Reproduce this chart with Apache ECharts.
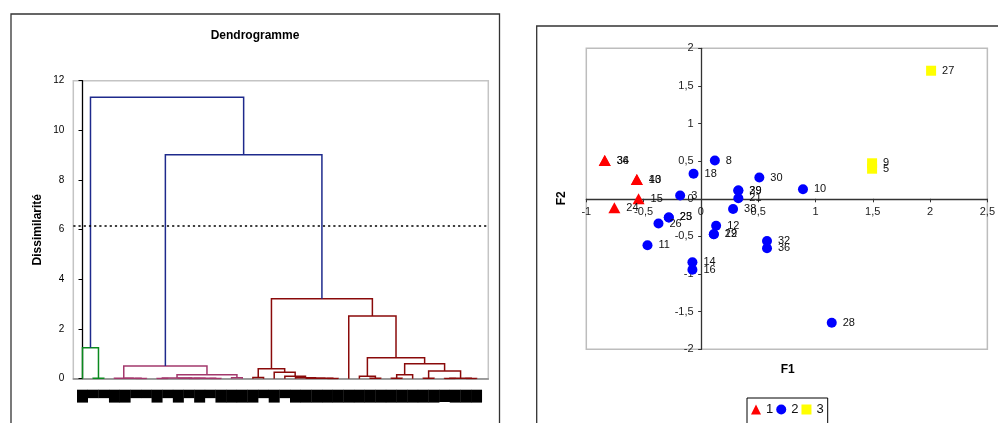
<!DOCTYPE html>
<html><head><meta charset="utf-8">
<script src="https://cdn.jsdelivr.net/npm/echarts@6/dist/echarts.min.js"></script>
<style>html,body{margin:0;padding:0;background:#fff}#c{width:998px;height:423px}</style>
</head><body><div id="c"></div>
<script>
// ---------------- Dendrogram data ----------------
const leafLabels = ["27","9","5","34","35","1","2","36","4","37","6","40","7","13","15","17",
  "31","3","18","8","20","30","10","39","29","33","21","38","25","23","26","12","19","22","11","14","16","28"];
// merges: [childA, childB, dissimilarity]; indices < 38 are leaves, 38+k is the k-th merge
const merges = [
  [1,2,0.02],[0,38,1.25],
  [5,6,0.01],[4,40,0.015],[3,41,0.02],[7,8,0.01],[10,11,0.01],[12,13,0.01],[44,45,0.015],
  [9,46,0.02],[43,47,0.03],[14,15,0.04],[48,49,0.16],[42,50,0.51],
  [16,17,0.05],[23,24,0.01],[22,53,0.015],[21,54,0.02],[20,55,0.04],[19,56,0.10],[18,57,0.26],
  [52,58,0.40],[27,28,0.02],[26,60,0.10],[29,30,0.02],[62,31,0.16],[32,33,0.02],[34,35,0.01],
  [36,37,0.01],[65,66,0.02],[64,67,0.31],[63,68,0.60],[61,69,0.84],[25,70,2.52],[59,71,3.22],
  [51,72,9.02],[39,73,11.33]
];
const cutHeight = 6.15;
const dendroYMax = 12;

// ---------------- Scatter data (F1, F2) ----------------
const c1Labels = ["34","36","13","40","15","24"];
const c1F1 = [-0.839,-0.839,-0.559,-0.559,-0.544,-0.755];
const c1F2 = [0.509,0.509,0.256,0.256,0.0,-0.118];
const c2Labels = ["8","18","3","30","10","29","39","21","38","23","25","26","12","19","22","32","36","11","14","16","28"];
const c2F1 = [0.122,-0.064,-0.181,0.510,0.891,0.327,0.327,0.327,0.281,-0.280,-0.280,-0.370,0.133,0.113,0.113,0.577,0.577,-0.466,-0.074,-0.074,1.142];
const c2F2 = [0.508,0.334,0.044,0.283,0.126,0.110,0.110,0.008,-0.136,-0.248,-0.248,-0.328,-0.357,-0.472,-0.472,-0.560,-0.656,-0.618,-0.843,-0.942,-1.646];
const c3Labels = ["27","9","5"];
const c3F1 = [2.009,1.494,1.494];
const c3F2 = [1.702,0.472,0.400];
const xTicksMin = -1, xTicksMax = 2.5, yTicksMin = -2, yTicksMax = 2, tickStep = 0.5;

// ---------------- layout ----------------
const FONT = "'Liberation Sans', Arial, sans-serif";
const dG = {left:73.3, top:80.7, width:415, height:298};
const sG = {left:586.3, top:48.3, width:403.7, height:301};
const leaf0 = 82.5, leafStep = 10.65;
const xMin = -(leaf0 - dG.left) / leafStep;
const xMax = xMin + dG.width / leafStep;
// put scatter axes through the origin
const xAxisOffset = -((0 - yTicksMin) / (yTicksMax - yTicksMin)) * sG.height;
const yAxisOffset = -((0 - xTicksMin) / (xTicksMax - xTicksMin)) * sG.width;

// compute node positions
const n = leafLabels.length;
const pos = [], hgt = [];
for (let i = 0; i < n; i++) { pos[i] = i; hgt[i] = 0; }
merges.forEach((m, k) => { pos[n + k] = (pos[m[0]] + pos[m[1]]) / 2; hgt[n + k] = m[2]; });
const clusterColors = ['#0A8A1E', '#A3386C', '#8A0A0A'];
const aboveColor = '#1E2A8C';
const nodeColor = {};
let clusterIdx = 0;
function assign(id, color) {
  if (id < n) return;
  const m = merges[id - n];
  if (color === null) {
    if (hgt[id] >= cutHeight) { nodeColor[id] = aboveColor; assign(m[0], null); assign(m[1], null); }
    else { const c = clusterColors[clusterIdx++ % clusterColors.length]; nodeColor[id] = c; assign(m[0], c); assign(m[1], c); }
  } else { nodeColor[id] = color; assign(m[0], color); assign(m[1], color); }
}
assign(n + merges.length - 1, null);
const linkData = merges.map((m, k) => {
  const id = n + k, a = m[0], b = m[1], h = m[2];
  return { coords: [[pos[a], hgt[a]], [pos[a], h], [pos[b], h], [pos[b], hgt[b]]],
           lineStyle: { color: nodeColor[id] } };
});

const pts = (F1, F2, L) => F1.map((x, i) => ({ value: [x, F2[i]], name: L[i] }));
const comma = v => String(v).replace('.', ',');
const ptLabel = { show: true, position: 'right', distance: 6, formatter: '{b}', color: '#111', fontSize: 11, fontFamily: FONT };

const chart = echarts.init(document.getElementById('c'), null, { renderer: 'canvas' });
chart.setOption({
  animation: false,
  backgroundColor: '#fff',
  grid: [
    { left: dG.left, top: dG.top, width: dG.width, height: dG.height, show: true, borderColor: '#c4c4c4', borderWidth: 1.5 },
    { left: sG.left, top: sG.top, width: sG.width, height: sG.height, show: true, borderColor: '#bdbdbd', borderWidth: 1.5 },
    { left: leaf0 - leafStep / 2, top: dG.top, width: leafStep * n, height: dG.height, show: false }
  ],
  xAxis: [
    { gridIndex: 0, type: 'value', min: xMin, max: xMax, axisLine: { lineStyle: { color: '#8a8a8a', width: 1.5 } },
      axisTick: { show: false }, axisLabel: { show: false }, splitLine: { show: false } },
    { gridIndex: 1, type: 'value', min: xTicksMin, max: xTicksMax, interval: tickStep, position: 'bottom', offset: xAxisOffset,
      axisLine: { onZero: false, lineStyle: { color: '#333', width: 1.3 } },
      axisTick: { length: 3.5, lineStyle: { color: '#333' } },
      axisLabel: { formatter: comma, fontSize: 11, color: '#222', margin: 8, fontFamily: FONT },
      splitLine: { show: false } },
    { gridIndex: 2, type: 'category', data: leafLabels, position: 'bottom',
      axisLine: { show: false }, axisTick: { show: false }, splitLine: { show: false },
      axisLabel: { interval: 0, rotate: 90, fontSize: 8, lineHeight: 9, color: '#000', backgroundColor: '#000',
                   padding: [1, 2, 1, 2], margin: 11, fontFamily: FONT } }
  ],
  yAxis: [
    { gridIndex: 0, type: 'value', min: 0, max: dendroYMax, interval: 2,
      name: 'Dissimilarité', nameLocation: 'middle', nameGap: 30,
      nameTextStyle: { fontWeight: 'bold', fontSize: 12, color: '#000', fontFamily: FONT },
      axisLine: { show: true, lineStyle: { color: '#000', width: 1.3 } },
      axisTick: { show: true, length: 4, lineStyle: { color: '#000' } },
      axisLabel: { fontSize: 10, color: '#000', margin: 9, fontFamily: FONT },
      splitLine: { show: false } },
    { gridIndex: 1, type: 'value', min: yTicksMin, max: yTicksMax, interval: tickStep, position: 'left', offset: yAxisOffset,
      axisLine: { onZero: false, lineStyle: { color: '#333', width: 1.3 } },
      axisTick: { length: 3.5, lineStyle: { color: '#333' } },
      axisLabel: { formatter: comma, fontSize: 11, color: '#222', margin: 8, fontFamily: FONT },
      splitLine: { show: false } },
    { gridIndex: 2, type: 'value', show: false, min: 0, max: 1 }
  ],
  legend: {
    data: ['1', '2', '3'], left: 747, top: 398, orient: 'horizontal',
    borderColor: '#000', borderWidth: 1, padding: [5, 4, 8, 4], itemWidth: 10, itemHeight: 10, itemGap: 3,
    textStyle: { fontSize: 13, color: '#111', fontFamily: FONT }
  },
  series: [
    { type: 'lines', coordinateSystem: 'cartesian2d', xAxisIndex: 0, yAxisIndex: 0, polyline: true, silent: true,
      lineStyle: { width: 1.5, opacity: 1 }, data: linkData, z: 3 },
    { type: 'line', xAxisIndex: 0, yAxisIndex: 0, symbol: 'none', silent: true,
      data: [[xMin, cutHeight], [xMax, cutHeight]],
      lineStyle: { color: '#000', width: 1.6, type: [2.2, 3] }, z: 4 },
    { name: '1', type: 'scatter', xAxisIndex: 1, yAxisIndex: 1, symbol: 'triangle', symbolSize: [12, 11],
      itemStyle: { color: '#FF0000', opacity: 1 }, label: ptLabel, data: pts(c1F1, c1F2, c1Labels) },
    { name: '2', type: 'scatter', xAxisIndex: 1, yAxisIndex: 1, symbol: 'circle', symbolSize: 10,
      itemStyle: { color: '#0000FF', opacity: 1 }, label: ptLabel, data: pts(c2F1, c2F2, c2Labels) },
    { name: '3', type: 'scatter', xAxisIndex: 1, yAxisIndex: 1, symbol: 'rect', symbolSize: 10,
      itemStyle: { color: '#FFFF00', opacity: 1 }, label: ptLabel, data: pts(c3F1, c3F2, c3Labels) }
  ],
  graphic: [
    { type: 'rect', shape: { x: 11, y: 14, width: 488.5, height: 430 }, style: { fill: 'none', stroke: '#333', lineWidth: 1.3 }, silent: true },
    { type: 'rect', shape: { x: 536.7, y: 26, width: 480, height: 430 }, style: { fill: 'none', stroke: '#333', lineWidth: 1.3 }, silent: true },
    { type: 'text', x: 255, y: 36, style: { text: 'Dendrogramme', align: 'center', verticalAlign: 'middle', textAlign: 'center', textVerticalAlign: 'middle', fontSize: 12, fontWeight: 'bold', fontFamily: FONT, fill: '#000' } },
    { type: 'text', x: 787.7, y: 370, style: { text: 'F1', align: 'center', verticalAlign: 'middle', textAlign: 'center', textVerticalAlign: 'middle', fontSize: 12, fontWeight: 'bold', fontFamily: FONT, fill: '#000' } },
    { type: 'text', x: 561.7, y: 198.3, rotation: Math.PI / 2, style: { text: 'F2', align: 'center', verticalAlign: 'middle', textAlign: 'center', textVerticalAlign: 'middle', fontSize: 12, fontWeight: 'bold', fontFamily: FONT, fill: '#000' } }
  ]
});
</script></body></html>
